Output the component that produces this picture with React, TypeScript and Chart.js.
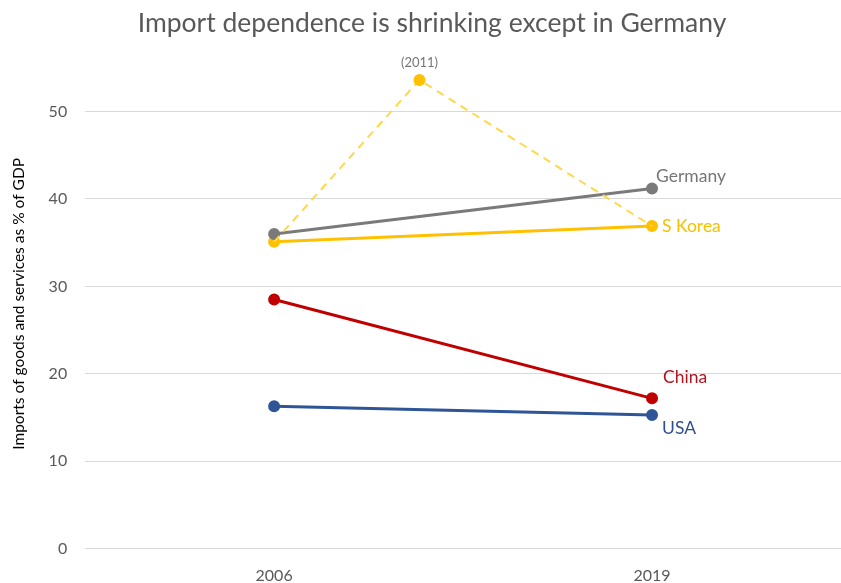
import React, { useEffect, useRef } from "react";
import { Chart, registerables } from "chart.js";

Chart.register(...registerables);

const years = [2006, 2019];
const germany = [36.0, 41.2];
const sKorea = [35.1, 36.9];
const sKoreaPeakYears = [2006, 2011, 2019];
const sKoreaPeak = [35.1, 53.6, 36.9];
const china = [28.5, 17.2];
const usa = [16.3, 15.3];
const yTicks = [0, 10, 20, 30, 40, 50];
const TITLE = "Import dependence is shrinking except in Germany";

const FONT = "Lato, 'Open Sans', sans-serif";

const pts = (xs: number[], ys: number[]) => xs.map((x, i) => ({ x, y: ys[i] }));

const labelPlugin = {
  id: "endLabels",
  afterDatasetsDraw(chart: any) {
    const { ctx, scales } = chart;
    const xs = scales.x;
    const ys = scales.y;
    const items = [
      { text: "Germany", x: 2019, y: germany[1], dx: 4, dy: -12, color: "#767676", align: "left" },
      { text: "S Korea", x: 2019, y: sKorea[1], dx: 10, dy: 0, color: "#F2C200", align: "left" },
      { text: "China", x: 2019, y: china[1], dx: 11, dy: -21, color: "#B0141E", align: "left" },
      { text: "USA", x: 2019, y: usa[1], dx: 10, dy: 13, color: "#2F4F8F", align: "left" },
      { text: "(2011)", x: 2011, y: sKoreaPeak[1], dx: 0, dy: -17, color: "#767676", align: "center" },
    ];
    ctx.save();
    ctx.textBaseline = "middle";
    for (const it of items) {
      ctx.fillStyle = it.color;
      ctx.font = it.text === "(2011)" ? `13px ${FONT}` : `17.5px ${FONT}`;
      ctx.textAlign = it.align;
      ctx.fillText(it.text, xs.getPixelForValue(it.x) + it.dx, ys.getPixelForValue(it.y) + it.dy);
    }
    // chart title, centred over the plotted categories
    ctx.fillStyle = "#595959";
    ctx.font = `26.5px ${FONT}`;
    ctx.textAlign = "center";
    ctx.fillText(TITLE, 432, 23);
    ctx.restore();
  },
};

export default function App() {
  const ref = useRef<HTMLCanvasElement | null>(null);
  useEffect(() => {
    if (!ref.current) return;
    const chart = new Chart(ref.current, {
      type: "line",
      data: {
        datasets: [
          {
            label: "S Korea (2011)",
            data: pts(sKoreaPeakYears, sKoreaPeak),
            borderColor: "#FFD84A",
            backgroundColor: "#FFC000",
            borderDash: [8, 6],
            borderWidth: 2,
            pointRadius: [0, 5, 0],
            pointBackgroundColor: "#FFC000",
            pointBorderColor: "#FFC000",
          },
          {
            label: "Germany",
            data: pts(years, germany),
            borderColor: "#7A7A7A",
            backgroundColor: "#7A7A7A",
            borderWidth: 3,
            pointRadius: 4.5,
          },
          {
            label: "S Korea",
            data: pts(years, sKorea),
            borderColor: "#FFC000",
            backgroundColor: "#FFC000",
            borderWidth: 3,
            pointRadius: 4.5,
          },
          {
            label: "China",
            data: pts(years, china),
            borderColor: "#C00000",
            backgroundColor: "#C00000",
            borderWidth: 3,
            pointRadius: 4.5,
          },
          {
            label: "USA",
            data: pts(years, usa),
            borderColor: "#2F5597",
            backgroundColor: "#2F5597",
            borderWidth: 3,
            pointRadius: 4.5,
          },
        ],
      },
      options: {
        animation: false,
        responsive: false,
        maintainAspectRatio: false,
        layout: { autoPadding: false, padding: { left: 10, right: 0, top: 59, bottom: -19 } },
        plugins: {
          legend: { display: false },
          tooltip: { enabled: false },
          title: { display: false },
        },
        scales: {
          x: {
            type: "linear",
            min: 1999.5,
            max: 2025.5,
            afterBuildTicks: (axis: any) => {
              axis.ticks = years.map((v) => ({ value: v }));
            },
            grid: { display: false, drawTicks: false },
            border: { display: true, color: "#D9D9D9", width: 1 },
            ticks: {
              color: "#595959",
              font: { family: FONT, size: 16 },
              padding: 17,
              callback: (v: any) => String(v),
            },
          },
          y: {
            min: 0,
            max: 56,
            afterBuildTicks: (axis: any) => {
              axis.ticks = yTicks.map((v) => ({ value: v }));
            },
            grid: { color: "#D9D9D9", drawTicks: false },
            border: { display: false },
            ticks: {
              color: "#595959",
              font: { family: FONT, size: 16 },
              padding: 18,
            },
            title: {
              display: true,
              text: "Imports of goods and services as % of GDP",
              color: "#000000",
              font: { family: FONT, size: 15.5 },
              padding: { top: 0, bottom: 2 },
            },
          },
        },
      },
      plugins: [labelPlugin],
    });
    return () => chart.destroy();
  }, []);
  return (
    <div style={{ position: "fixed", left: 0, top: 0, width: 841, height: 583, background: "#fff" }}>
      <canvas ref={ref} width={841} height={583} style={{ width: 841, height: 583, display: "block" }} />
    </div>
  );
}
